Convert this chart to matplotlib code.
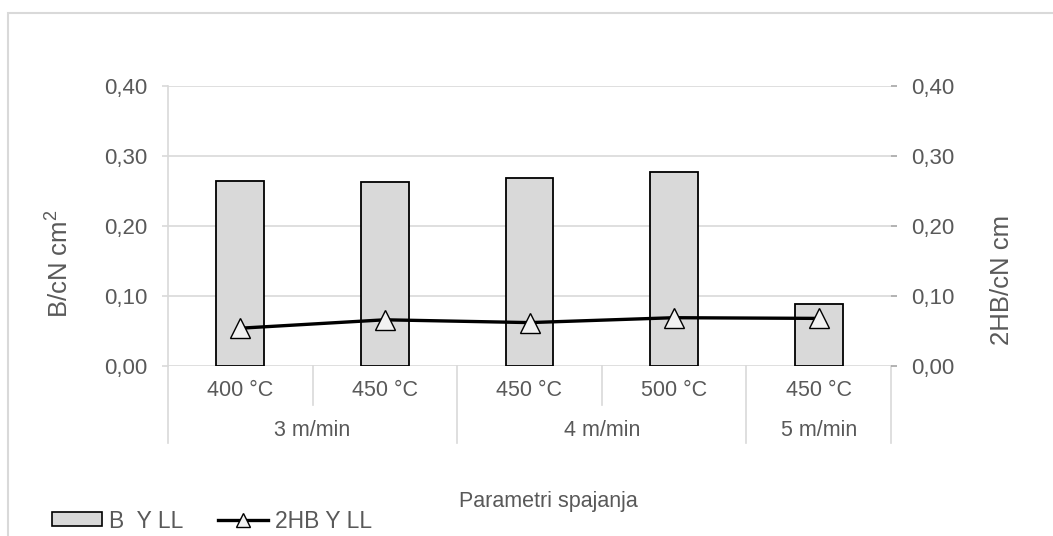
import matplotlib
matplotlib.use("Agg")
import matplotlib.pyplot as plt
from matplotlib.lines import Line2D
from matplotlib.patches import Rectangle, Patch

# data
temps = ["400 °C", "450 °C", "450 °C", "500 °C", "450 °C"]
groups = ["3 m/min", "4 m/min", "5 m/min"]
group_sizes = [2, 2, 1]
b_values = [0.264, 0.263, 0.268, 0.277, 0.088]
hb_values = [0.054, 0.066, 0.062, 0.069, 0.068]
y_ticks = [0.0, 0.1, 0.2, 0.3, 0.4]
y_tick_labels = ["0,00", "0,10", "0,20", "0,30", "0,40"]

W, H = 1053, 536
text_col = "#595959"
grid_col = "#d9d9d9"
plt.rcParams["font.family"] = ["Liberation Sans", "DejaVu Sans"]
plt.rcParams["mathtext.fontset"] = "custom"
plt.rcParams["mathtext.rm"] = "Liberation Sans"
plt.rcParams["mathtext.default"] = "regular"

fig = plt.figure(figsize=(W / 100, H / 100), dpi=100)

# plot area in pixels of the reference
left, right, top, bottom = 168, 891, 86, 366
ax = fig.add_axes([left / W, 1 - bottom / H, (right - left) / W, (bottom - top) / H])
ax2 = ax.twinx()

x = list(range(len(temps)))
ax.bar(x, b_values, width=0.33, color="#d9d9d9", edgecolor="black",
       linewidth=1.3, zorder=3)
ax2.plot(x, hb_values, color="black", linewidth=2.4, marker="^", markersize=14,
         markerfacecolor="#f2f2f2", markeredgecolor="black", markeredgewidth=1,
         zorder=4)

for a in (ax, ax2):
    a.set_ylim(0, 0.4)
    a.set_yticks(y_ticks)
    a.set_xlim(-0.5, len(temps) - 0.5)
ax.set_yticklabels(y_tick_labels)
ax2.set_yticklabels(y_tick_labels)

ax.yaxis.grid(True, color=grid_col, linewidth=1.2, zorder=0)
ax.set_axisbelow(True)
ax.set_xticks([])

for s in ["top", "right", "bottom"]:
    ax.spines[s].set_visible(False)
    ax2.spines[s].set_visible(False)
ax2.spines["left"].set_visible(False)
ax.spines["left"].set_color(grid_col)
ax.spines["left"].set_linewidth(1.2)
ax2.spines["right"].set_color("#a6a6a6")
ax2.spines["right"].set_linewidth(1.3)

ax.tick_params(axis="y", colors=grid_col, labelcolor=text_col, labelsize=16,
               length=4.5, width=1.2, pad=10.5)
ax2.tick_params(axis="y", colors="#a6a6a6", labelcolor=text_col, labelsize=16,
                length=4.5, width=1.2, pad=10)

# multi-level category axis
tr = ax.get_xaxis_transform()
ph = bottom - top
y_inner = -(405 - bottom) / ph
y_outer = -(443 - bottom) / ph
y_temp = -(391 - bottom) / ph
y_group = -(431 - bottom) / ph

for i, t in enumerate(temps):
    ax.text(i, y_temp, t, transform=tr, ha="center", va="center",
            fontsize=15.5, color=text_col)

start = 0
bounds = [-0.5]
for g, n in zip(groups, group_sizes):
    ax.text(start + (n - 1) / 2, y_group, g, transform=tr, ha="center",
            va="center", fontsize=15.5, color=text_col)
    for k in range(1, n):
        ax.plot([start + k - 0.5] * 2, [0, y_inner], transform=tr,
                color=grid_col, linewidth=1.2, clip_on=False)
    start += n
    bounds.append(start - 0.5)
for b in bounds:
    ax.plot([b, b], [0, y_outer], transform=tr, color=grid_col,
            linewidth=1.2, clip_on=False)

# axis titles
fig.text(60 / W, 1 - 264 / H, "B/cN cm$^2$", rotation=90, ha="center",
         va="center", fontsize=18.5, color=text_col)
fig.text(1002 / W, 1 - 280 / H, "2HB/cN cm", rotation=90, ha="center",
         va="center", fontsize=18.5, color=text_col)
fig.text(548 / W, 1 - 502 / H, "Parametri spajanja", ha="center",
         va="center", fontsize=15.5, color=text_col)

# legend
handles = [
    Patch(facecolor="#d9d9d9", edgecolor="black", linewidth=1.2),
    Line2D([], [], color="black", linewidth=2.4, marker="^", markersize=10,
           markerfacecolor="#f2f2f2", markeredgecolor="black",
           markeredgewidth=1),
]
fig.legend(handles, ["B  Y LL", "2HB Y LL"], loc="center left",
           bbox_to_anchor=(52 / W, 1 - 521 / H), ncol=2, frameon=False,
           fontsize=16.5, labelcolor=text_col, handlelength=2.2,
           handleheight=0.55, handletextpad=0.3, columnspacing=1.5,
           borderpad=0, borderaxespad=0)

# chart area border (only left/top edges visible)
fig.add_artist(Rectangle((8 / W, -0.2), 1.2, 1 - 13 / H + 0.2,
                         transform=fig.transFigure, fill=False,
                         edgecolor=grid_col, linewidth=1.5))

fig.savefig("out.png", dpi=100)
